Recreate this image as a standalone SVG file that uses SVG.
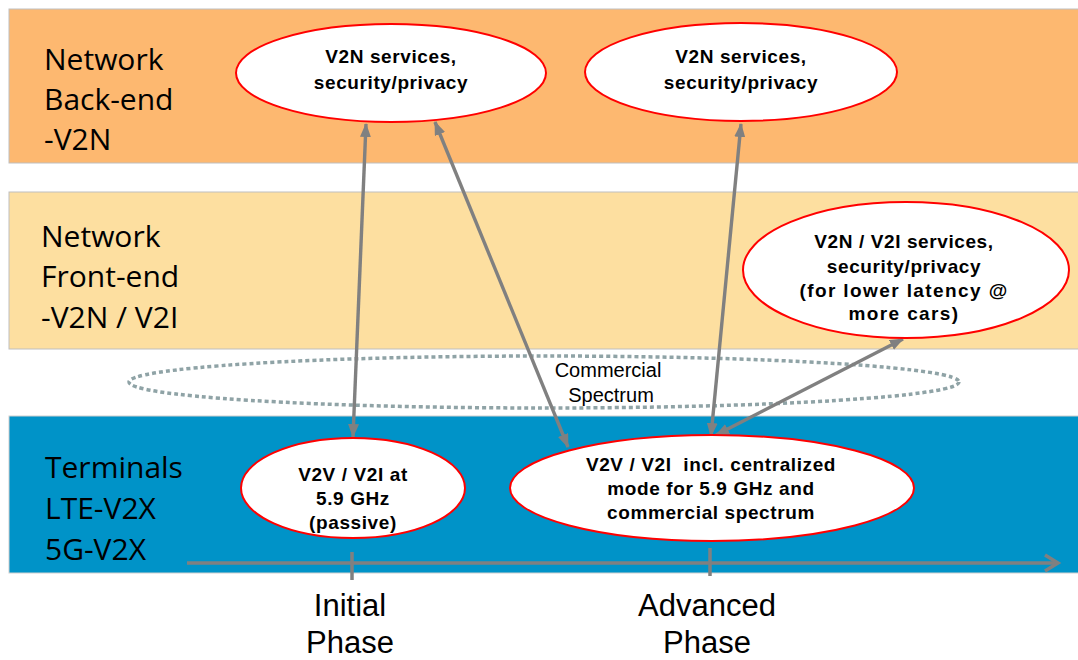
<svg xmlns="http://www.w3.org/2000/svg" width="1078" height="660" viewBox="0 0 1078 660">
<defs>
<style>
.band-o{fill:#FDB870;stroke:#BFBFBF;stroke-width:1}
.band-l{fill:#FDDFA0;stroke:#BFBFBF;stroke-width:1}
.band-b{fill:#0093C8;stroke:#D0D0D0;stroke-width:1}
.lbl{font-family:"Open Sans","Noto Sans",sans-serif;font-size:30px;fill:#000}
.node{fill:#FFFFFF;stroke:#FF0000;stroke-width:2}
.nt{font-family:"Liberation Sans",Arial,sans-serif;font-size:19px;font-weight:bold;fill:#000;text-anchor:middle;letter-spacing:0.6px}
.cs{font-family:"Liberation Sans",Arial,sans-serif;font-size:20px;fill:#000;text-anchor:middle}
.ph{font-family:"Liberation Sans",Arial,sans-serif;font-size:31px;fill:#000;text-anchor:middle}
.conn{stroke:#808080;stroke-width:3.4;fill:none;marker-start:url(#ah);marker-end:url(#ah)}
.axis{stroke:#808080;stroke-width:3.5;fill:none}
</style>
<marker id="ah" markerUnits="userSpaceOnUse" markerWidth="14" markerHeight="11" refX="13" refY="5.5" orient="auto-start-reverse">
<path d="M0,0 L14,5.5 L0,11 z" fill="#808080"/>
</marker>
</defs>

<g id="bands">
<rect class="band-o" x="9" y="9" width="1080" height="154"/>
<rect class="band-l" x="9" y="192" width="1080" height="157"/>
<rect class="band-b" x="9" y="416" width="1080" height="157"/>
</g>

<g id="layer-labels">
<text class="lbl" x="44" y="70">Network</text>
<text class="lbl" x="44" y="110">Back-end</text>
<text class="lbl" x="44" y="150">-V2N</text>
<text class="lbl" x="41" y="247">Network</text>
<text class="lbl" x="41" y="287">Front-end</text>
<text class="lbl" x="41" y="328">-V2N / V2I</text>
<text class="lbl" x="45" y="478">Terminals</text>
<text class="lbl" x="45" y="519">LTE-V2X</text>
<text class="lbl" x="45" y="560">5G-V2X</text>
</g>

<g id="commercial-spectrum">
<ellipse cx="544" cy="382" rx="415" ry="26" fill="none" stroke="#8FA3A6" stroke-width="3.5" stroke-dasharray="4 3"/>
<text class="cs" x="608" y="377">Commercial</text>
<text class="cs" x="611" y="402">Spectrum</text>
</g>

<g id="timeline">
<line class="axis" x1="187" y1="563" x2="1058" y2="563"/>
<polyline class="axis" points="1045,555 1058,563 1045,571"/>
<line class="axis" x1="352" y1="552" x2="352" y2="580"/>
<line class="axis" x1="710" y1="548" x2="710" y2="576"/>
<text class="ph" x="350" y="616">Initial</text>
<text class="ph" x="350" y="653">Phase</text>
<text class="ph" x="707" y="616">Advanced</text>
<text class="ph" x="707" y="653">Phase</text>
</g>

<g id="connectors">
<line class="conn" x1="353" y1="437" x2="366" y2="124"/>
<line class="conn" x1="568" y1="447" x2="435" y2="122"/>
<line class="conn" x1="711" y1="436" x2="741" y2="124"/>
<line class="conn" x1="716" y1="435" x2="903" y2="339"/>
</g>

<g id="node-v2n-initial">
<ellipse class="node" cx="391" cy="73" rx="155" ry="49"/>
<text class="nt" x="391" y="63">V2N services,</text>
<text class="nt" x="391" y="89">security/privacy</text>
</g>

<g id="node-v2n-advanced">
<ellipse class="node" cx="741" cy="72" rx="156" ry="49"/>
<text class="nt" x="741" y="63">V2N services,</text>
<text class="nt" x="741" y="89">security/privacy</text>
</g>

<g id="node-v2n-v2i">
<ellipse class="node" cx="906" cy="270" rx="163" ry="68"/>
<text class="nt" x="904" y="248">V2N / V2I services,</text>
<text class="nt" x="904" y="273">security/privacy</text>
<text class="nt" x="904" y="297" style="letter-spacing:1.4px">(for lower latency @</text>
<text class="nt" x="904" y="320" style="letter-spacing:1.4px">more cars)</text>
</g>

<g id="node-v2v-initial">
<ellipse class="node" cx="353" cy="488" rx="112" ry="50"/>
<text class="nt" x="353" y="481">V2V / V2I at</text>
<text class="nt" x="353" y="505">5.9 GHz</text>
<text class="nt" x="353" y="529">(passive)</text>
</g>

<g id="node-v2v-advanced">
<ellipse class="node" cx="712" cy="488" rx="202" ry="53"/>
<text class="nt" x="711" y="471" xml:space="preserve">V2V / V2I  incl. centralized</text>
<text class="nt" x="711" y="495">mode for 5.9 GHz and</text>
<text class="nt" x="711" y="519">commercial spectrum</text>
</g>
</svg>
